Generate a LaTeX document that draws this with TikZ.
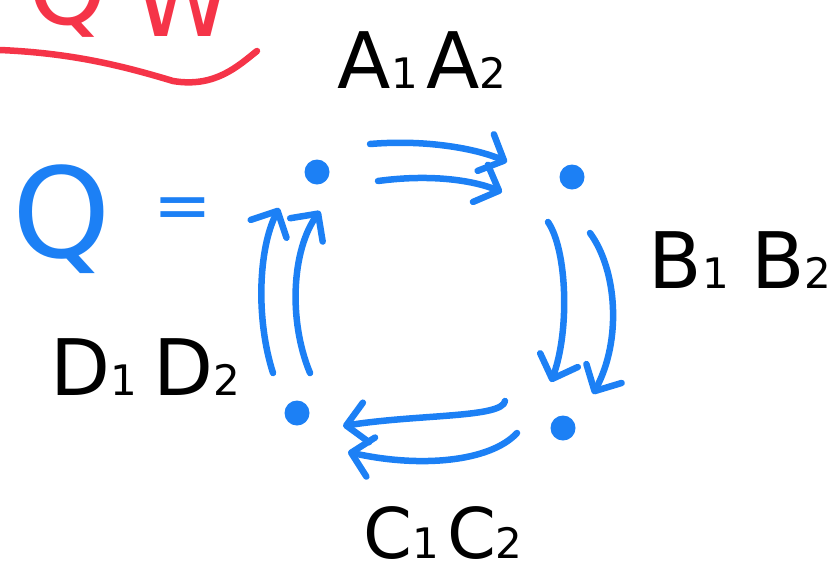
\documentclass[tikz,border=0pt]{standalone}
\usepackage{fontspec}
\setmainfont{DejaVu Sans}
\usetikzlibrary{arrows.meta}
\definecolor{pen}{RGB}{28,128,245}
\definecolor{ink}{RGB}{245,52,72}
\newcommand\lowdig[1]{{\fontsize{42}{42}\selectfont #1}}
\begin{document}
\begin{tikzpicture}[x=1pt,y=-1pt,
  arr/.style={draw=pen,line width=6.5pt,line cap=round,
    -{Straight Barb[round,length=20pt,width=40pt]}},
  dot/.style={circle,fill=pen,inner sep=0pt,minimum size=25pt},
  lab/.style={text=black,inner sep=0pt,anchor=base,text depth=0pt,font=\fontsize{78}{78}\selectfont},
  redtxt/.style={text=ink,inner sep=0pt,anchor=base,font=\fontsize{100}{100}\selectfont},
  bluetxt/.style={text=pen,inner sep=0pt,anchor=base}]
\useasboundingbox (0,0) rectangle (837,574);
% red fragment at top
\node[redtxt] (rq) at (68,24) {Q};
\node[redtxt] (rw) at (183,36) {W};
\coordinate (u0) at (0,50);
\coordinate (u1) at (173,81);
\coordinate (u2) at (257,51);
\draw[ink,line width=6.5pt,line cap=round] (u0) .. controls (70,53) and (120,65) .. (u1)
  .. controls (215,88) and (238,66) .. (u2);
% Q =
\node[bluetxt,font=\fontsize{125}{125}\selectfont] (q) at (62,257) {Q};
\node[bluetxt,font=\fontsize{70}{70}\selectfont,anchor=center] (eq) at (183,214) {=};
% dots
\node[dot] (d1) at (317,172) {};
\node[dot] (d2) at (572,177) {};
\node[dot] (d3) at (563,428) {};
\node[dot] (d4) at (297,413) {};
% arrow end points
\coordinate (a1s) at (370,144); \coordinate (a1e) at (507,162);
\coordinate (a2s) at (378,181); \coordinate (a2e) at (502,192);
\coordinate (b1s) at (548,222); \coordinate (b1e) at (551,382);
\coordinate (b2s) at (590,233); \coordinate (b2e) at (593,394);
\coordinate (c1s) at (505,401); \coordinate (c1e) at (343,426);
\coordinate (c2s) at (517,433); \coordinate (c2e) at (348,452);
\coordinate (e1s) at (273,373); \coordinate (e1e) at (279,208);
\coordinate (e2s) at (310,373); \coordinate (e2e) at (320,211);
% arrows
\draw[arr] (a1s) .. controls (430,139) and (480,150) .. (a1e);
\draw[arr] (a2s) .. controls (430,174) and (472,180) .. (a2e);
\draw[arr] (b1s) .. controls (567,250) and (570,330) .. (b1e);
\draw[arr] (b2s) .. controls (617,270) and (622,340) .. (b2e);
\draw[arr] (c1s) .. controls (502,418) and (420,414) .. (c1e);
\draw[arr] (c2s) .. controls (490,462) and (420,468) .. (c2e);
\draw[arr] (e1s) .. controls (256,320) and (258,250) .. (e1e);
\draw[arr] (e2s) .. controls (288,320) and (292,250) .. (e2e);
% labels
\node[lab] (la) at (422,88) {A\lowdig{1}\hspace{8pt}A\lowdig{2}};
\node[lab] (lb) at (740,288) {B\lowdig{1}\hspace{22pt}B\lowdig{2}};
\node[lab,font=\fontsize{70}{70}\selectfont] (lc) at (443,558) {C\lowdig{1}\hspace{8pt}C\lowdig{2}};
\node[lab] (ld) at (145,395) {D\lowdig{1}\hspace{16pt}D\lowdig{2}};
\end{tikzpicture}
\end{document}
